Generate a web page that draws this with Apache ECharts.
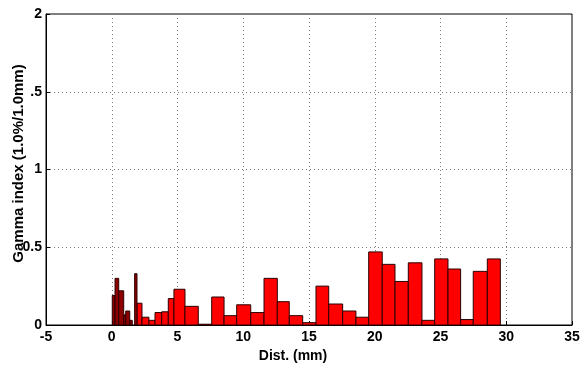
<!DOCTYPE html>
<html>
<head>
<meta charset="utf-8">
<script src="https://cdn.jsdelivr.net/npm/echarts@6/dist/echarts.min.js"></script>
<style>
  html, body { margin: 0; padding: 0; background: #fff; }
  #chart { width: 582px; height: 367px; }
</style>
</head>
<body>
<div id="chart"></div>
<script>
// narrow dark bins near the origin
const darkStart = [0.04, 0.25, 0.53, 0.91, 1.06, 1.37, 1.74];
const darkEnd   = [0.25, 0.53, 0.91, 1.06, 1.37, 1.56, 1.92];
const darkGamma = [0.19, 0.30, 0.22, 0.065, 0.09, 0.03, 0.33];

// regular red bins (edges in mm)
const redEdges = [1.92, 2.30, 2.83, 3.29, 3.80, 4.30, 4.73, 5.57, 6.58, 7.60, 8.54,
  9.50, 10.57, 11.58, 12.59, 13.50, 14.52, 15.53, 16.50, 17.56, 18.57, 19.54,
  20.57, 21.54, 22.55, 23.59, 24.56, 25.57, 26.53, 27.49, 28.56, 29.55];
const redGamma = [0.14, 0.05, 0.03, 0.08, 0.085, 0.17, 0.23, 0.12, 0.005, 0.18,
  0.06, 0.13, 0.08, 0.30, 0.15, 0.06, 0.015, 0.25, 0.135, 0.09, 0.05, 0.47,
  0.39, 0.28, 0.40, 0.03, 0.425, 0.36, 0.035, 0.345, 0.425];

const xTicks = [-5, 0, 5, 10, 15, 20, 25, 30, 35];
const yTicks = [0, 0.5, 1, 1.5, 2];

const darkData = darkGamma.map((v, i) => [darkStart[i], darkEnd[i], v]);
const redData = redGamma.map((v, i) => [redEdges[i], redEdges[i + 1], v]);

function binRect(fill) {
  return function (params, api) {
    const p0 = api.coord([api.value(0), api.value(2)]);
    const p1 = api.coord([api.value(1), 0]);
    return {
      type: 'rect',
      shape: { x: p0[0], y: p0[1], width: p1[0] - p0[0], height: p1[1] - p0[1] },
      style: { fill: fill, stroke: '#2a0000', lineWidth: 1 }
    };
  };
}

const labelFont = {
  fontFamily: 'Liberation Sans, Arial, sans-serif',
  fontWeight: 'bold',
  fontSize: 14,
  color: '#000'
};

const chart = echarts.init(document.getElementById('chart'));
chart.setOption({
  animation: false,
  backgroundColor: '#fff',
  grid: {
    left: 46, right: 10, top: 14, bottom: 42,
    outerBoundsMode: 'none',
    containLabel: false,
    show: true, borderColor: '#000', borderWidth: 1, backgroundColor: '#fff'
  },
  xAxis: {
    type: 'value',
    min: xTicks[0], max: xTicks[xTicks.length - 1], interval: 5,
    name: 'Dist. (mm)',
    nameLocation: 'middle',
    nameGap: 24,
    nameMoveOverlap: false,
    nameTextStyle: Object.assign({}, labelFont, { fontSize: 14, padding: [0, 32, 0, 0] }),
    axisLine: { show: true, onZero: false, lineStyle: { color: '#000' } },
    axisTick: { inside: true, length: 4, lineStyle: { color: '#000' } },
    axisLabel: Object.assign({}, labelFont, { margin: 5 }),
    splitLine: {
      show: true,
      lineStyle: { color: '#777', type: [1, 3], width: 1 }
    }
  },
  yAxis: {
    type: 'value',
    min: yTicks[0], max: yTicks[yTicks.length - 1], interval: 0.5,
    name: 'Gamma index (1.0%/1.0mm)',
    nameLocation: 'middle',
    nameGap: 20,
    nameMoveOverlap: false,
    nameTextStyle: Object.assign({}, labelFont, { fontSize: 15, padding: [0, 0, 0, 12] }),
    axisLine: { show: true, onZero: false, lineStyle: { color: '#000' } },
    axisTick: { inside: true, length: 4, lineStyle: { color: '#000' } },
    axisLabel: Object.assign({}, labelFont, {
      margin: 4,
      formatter: v => (v === 1.5 ? '.5' : String(v))
    }),
    splitLine: {
      show: true,
      lineStyle: { color: '#777', type: [1, 3], width: 1 }
    }
  },
  series: [
    {
      type: 'custom',
      renderItem: binRect('#ff0000'),
      encode: { x: [0, 1], y: 2 },
      data: redData
    },
    {
      type: 'custom',
      renderItem: binRect('#8c0000'),
      encode: { x: [0, 1], y: 2 },
      data: darkData
    }
  ]
});
</script>
</body>
</html>
